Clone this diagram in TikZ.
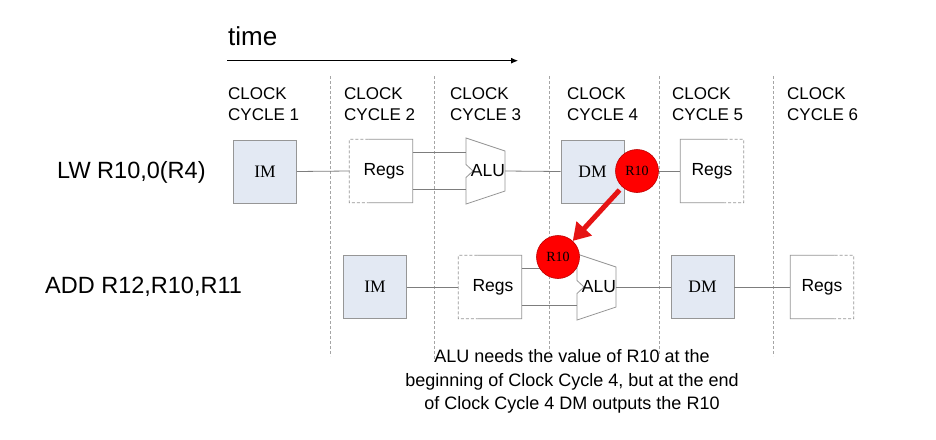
\documentclass[tikz,border=0pt]{standalone}
\usepackage{fontspec}
\setmainfont{Liberation Sans}
\newfontfamily\timesf{Liberation Serif}
\usetikzlibrary{arrows.meta,calc}
\definecolor{boxblue}{RGB}{227,233,243}
\definecolor{boxgray}{RGB}{150,150,150}
\definecolor{wiregray}{RGB}{125,125,125}
\definecolor{dashgray}{RGB}{165,165,165}
\definecolor{ballred}{RGB}{255,0,0}
\definecolor{balledge}{RGB}{190,0,0}
\definecolor{arrowred}{RGB}{230,20,20}
\newcommand{\RegsLeftDashed}[1]{%
  \draw[boxline] ($(#1.north west)!0.3!(#1.north east)$) -- (#1.north east) -- (#1.south east) -- ($(#1.south west)!0.3!(#1.south east)$);
  \draw[boxline,dashpart] ($(#1.north west)!0.3!(#1.north east)$) -- (#1.north west) -- (#1.south west) -- ($(#1.south west)!0.3!(#1.south east)$);}
\newcommand{\RegsRightDashed}[1]{%
  \draw[boxline] ($(#1.north west)!0.7!(#1.north east)$) -- (#1.north west) -- (#1.south west) -- ($(#1.south west)!0.7!(#1.south east)$);
  \draw[boxline,dashpart] ($(#1.north west)!0.7!(#1.north east)$) -- (#1.north east) -- (#1.south east) -- ($(#1.south west)!0.7!(#1.south east)$);}
\newcommand{\ALUat}[3]{%
  \draw[boxline,fill=white] (#2,#3-33) -- (#2+39,#3-20) -- (#2+39,#3+20) -- (#2,#3+33) -- (#2,#3+6.5) -- (#2+7,#3) -- (#2,#3-6.5) -- cycle;
  \coordinate (#1-in1) at (#2,#3-19);
  \coordinate (#1-in2) at (#2,#3+18);
  \coordinate (#1-out) at (#2+39,#3);
  \node[alutext] (#1-t) at (#2+22,#3) {ALU};}
\begin{document}
\begin{tikzpicture}[x=1pt,y=-1pt,
  unit/.style={draw=boxgray, line width=0.8pt, fill=boxblue, minimum width=63pt, minimum height=63pt, inner sep=0pt, font=\timesf\fontsize{17.5}{20}\selectfont},
  regsbox/.style={fill=white, minimum width=63pt, minimum height=63pt, inner sep=0pt, font=\fontsize{17.5}{20}\selectfont},
  boxline/.style={draw=boxgray, line width=0.8pt},
  dashpart/.style={dash pattern=on 3pt off 2pt},
  alutext/.style={inner sep=0pt, font=\fontsize{17.5}{20}\selectfont},
  wire/.style={draw=wiregray, line width=0.8pt},
  cycline/.style={draw=dashgray, line width=0.6pt, dash pattern=on 3pt off 2pt},
  redball/.style={circle, fill=ballred, draw=balledge, line width=0.6pt, minimum size=43pt, inner sep=0pt, font=\timesf\fontsize{14}{16}\selectfont},
  redarrow/.style={draw=arrowred, line width=5pt, -{Triangle[length=17pt,width=20pt]}, shorten <=4pt},
  cyclbl/.style={anchor=base west, inner sep=0pt, font=\fontsize{17}{20}\selectfont},
  instr/.style={anchor=base west, inner sep=0pt, font=\fontsize{23.5}{26}\selectfont},
  note/.style={anchor=base, inner sep=0pt, font=\fontsize{18}{22}\selectfont}
]
\useasboundingbox[fill=white] (0,0) rectangle (936,439);

% time axis
\node[anchor=base west, inner sep=0pt, font=\fontsize{26}{30}\selectfont] (time) at (228,45) {time};
\coordinate (t0) at (227,60.7);
\coordinate (t1) at (518,60.7);
\draw[line width=0.8pt, -{Latex[length=7pt,width=6pt]}] (t0) -- (t1);

% cycle labels
\node[cyclbl] (c1a) at (228,99) {CLOCK};
\node[cyclbl] (c1b) at (228,120) {CYCLE 1};
\node[cyclbl] (c2a) at (344,99) {CLOCK};
\node[cyclbl] (c2b) at (344,120) {CYCLE 2};
\node[cyclbl] (c3a) at (450,99) {CLOCK};
\node[cyclbl] (c3b) at (450,120) {CYCLE 3};
\node[cyclbl] (c4a) at (567,99) {CLOCK};
\node[cyclbl] (c4b) at (567,120) {CYCLE 4};
\node[cyclbl] (c5a) at (672,99) {CLOCK};
\node[cyclbl] (c5b) at (672,120) {CYCLE 5};
\node[cyclbl] (c6a) at (787,99) {CLOCK};
\node[cyclbl] (c6b) at (787,120) {CYCLE 6};

% cycle separators
\foreach \xx/\yb in {330/356,434/362,549/352,659/356,773/356}{
  \draw[cycline] (\xx,76) -- (\xx,\yb);
}

% instruction labels
\node[instr] (lw) at (57,178) {LW R10,0(R4)};
\node[instr] (add) at (45,293) {ADD R12,R10,R11};

% row 1
\node[unit] (im1) at (265,171.5) {IM};
\node[regsbox] (rg1) at (381,171) {\hspace{6pt}Regs};
\RegsLeftDashed{rg1}
\ALUat{alu1}{466}{171}
\node[unit] (dm1) at (592.5,171.5) {DM\hspace{6pt}};
\node[regsbox] (rg5) at (712,171) {Regs};
\RegsRightDashed{rg5}

\draw[wire] (im1.east) -- (rg1.west);
\draw[wire] (rg1.east |- alu1-in1) -- (alu1-in1);
\draw[wire] (rg1.east |- alu1-in2) -- (alu1-in2);
\draw[wire] (alu1-out) -- (dm1.west);

% row 2
\node[unit] (im2) at (375,287) {IM};
\node[regsbox] (rg2) at (490,287) {\hspace{6pt}Regs};
\RegsLeftDashed{rg2}
\ALUat{alu2}{577}{287}
\node[unit] (dm2) at (702.5,287) {DM};
\node[regsbox] (rg3) at (822,287) {Regs};
\RegsRightDashed{rg3}

\draw[wire] (im2.east) -- (rg2.west);
\draw[wire] (rg2.east |- alu2-in1) -- (alu2-in1);
\draw[wire] (rg2.east |- alu2-in2) -- (alu2-in2);
\draw[wire] (alu2-out) -- (dm2.west);
\draw[wire] (dm2.east) -- (rg3.west);

% forwarding balls
\node[redball] (ball1) at (637,171) {R10};
\node[redball] (ball2) at (558,257) {R10};
\draw[wire] (ball1.east) -- (rg5.west);
\draw[redarrow] (ball1) -- (ball2);

% note
\node[note] (n1) at (572,362) {ALU needs the value of R10 at the};
\node[note] (n2) at (572,386) {beginning of Clock Cycle 4, but at the end};
\node[note] (n3) at (572,409.5) {of Clock Cycle 4 DM outputs the R10};
\end{tikzpicture}
\end{document}
